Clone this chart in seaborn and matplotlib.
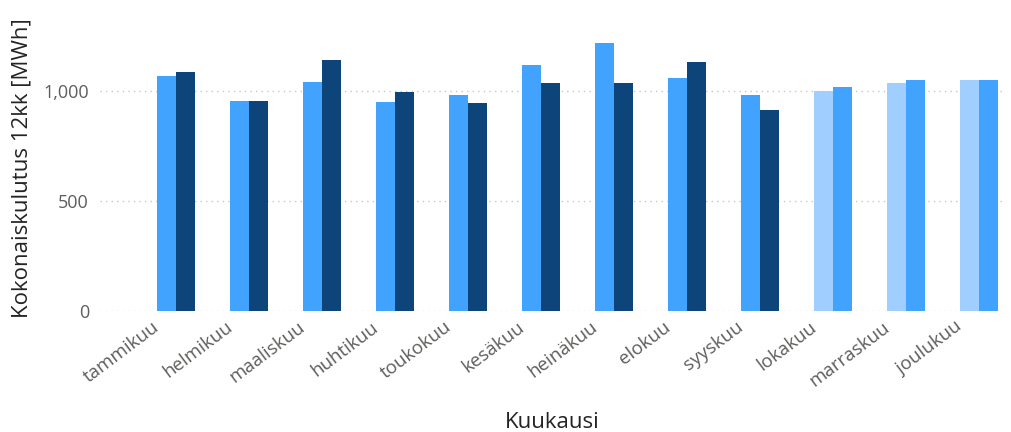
import matplotlib
matplotlib.use("Agg")
import matplotlib.pyplot as plt
import matplotlib.transforms as mtransforms
import seaborn as sns
import pandas as pd
import numpy as np

months = ["tammikuu", "helmikuu", "maaliskuu", "huhtikuu", "toukokuu", "kesäkuu",
          "heinäkuu", "elokuu", "syyskuu", "lokakuu", "marraskuu", "joulukuu"]
series_a = [1068, 956, 1040, 950, 982, 1118, 1220, 1061, 983, 1000, 1038, 1050]
series_b = [1085, 956, 1141, 994, 945, 1038, 1035, 1130, 912, 1017, 1050, 1050]
forecast = [False] * 9 + [True] * 3

LIGHT = "#42A3FF"
DARK = "#0D4479"
PALE = "#A0CFFF"

df = pd.DataFrame({
    "Kuukausi": months * 2,
    "sarja": ["A"] * 12 + ["B"] * 12,
    "arvo": series_a + series_b,
})

sns.set_style("white")
plt.rcParams["font.family"] = ["Open Sans", "DejaVu Sans"]

fig = plt.figure(figsize=(10.11, 4.32), dpi=100)
ax = fig.add_axes([100 / 1011, 1 - 311 / 432, 905 / 1011, 286 / 432])

sns.barplot(data=df, x="Kuukausi", y="arvo", hue="sarja", order=months,
            hue_order=["A", "B"], width=0.52, palette=[LIGHT, DARK],
            legend=False, ax=ax, saturation=1, linewidth=0)

# recolor forecast months
bars = ax.patches
for i, p in enumerate(bars[:12]):
    p.set_facecolor(PALE if forecast[i] else LIGHT)
for i, p in enumerate(bars[12:24]):
    p.set_facecolor(LIGHT if forecast[i] else DARK)

ax.set_xlim(-1.04, 11.36)
ax.set_ylim(0, 1300)
ax.set_yticks([0, 500, 1000])
ax.set_yticklabels(["0", "500", "1,000"])
ax.yaxis.grid(True, linestyle=(0, (1, 3)), color="#c8c8c8", linewidth=1)
ax.set_axisbelow(True)
for s in ax.spines.values():
    s.set_visible(False)
ax.tick_params(axis="both", length=0)
ax.tick_params(axis="y", labelsize=13, labelcolor="#605E5C", pad=8)
ax.tick_params(axis="x", labelsize=13.5, labelcolor="#605E5C", pad=5)
offset = mtransforms.ScaledTranslation(-0.24, 0, fig.dpi_scale_trans)
for lab in ax.get_xticklabels():
    lab.set_rotation(37)
    lab.set_ha("right")
    lab.set_rotation_mode("anchor")
    lab.set_transform(lab.get_transform() + offset)

ax.set_xlabel("Kuukausi", fontsize=16, color="#252423", labelpad=16)
ax.set_ylabel("Kokonaiskulutus 12kk [MWh]", fontsize=16, color="#252423", labelpad=8)

fig.savefig("out.png", dpi=100)
